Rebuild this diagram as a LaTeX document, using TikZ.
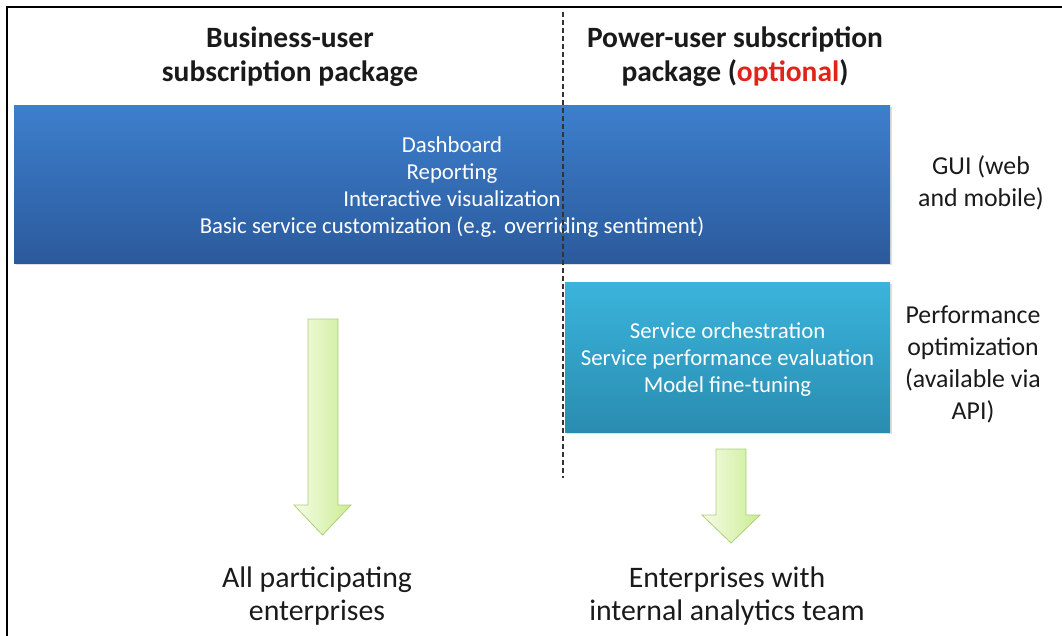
\documentclass[tikz,border=0pt]{standalone}
\usepackage{fontspec}
\setmainfont{Carlito}
\usetikzlibrary{shadows}

\definecolor{guitop}{HTML}{3D7FCD}
\definecolor{guibot}{HTML}{2B5A9C}
\definecolor{perftop}{HTML}{3AB4DC}
\definecolor{perfbot}{HTML}{2A8CB0}
\definecolor{arrowlight}{HTML}{F6FCE8}
\definecolor{arrowdark}{HTML}{CBEC92}
\definecolor{arrowedge}{HTML}{ABD078}
\definecolor{optred}{HTML}{E2231A}
\definecolor{inktext}{HTML}{1A1A1A}

\begin{document}
\begin{tikzpicture}[x=1pt,y=-1pt,
  layerbox/.style={rectangle, inner sep=0pt, align=center, text=white,
    font=\fontsize{22.8}{27}\selectfont,
    drop shadow={shadow xshift=1.5pt, shadow yshift=-2pt, opacity=0.25}},
  header/.style={align=center, text=inktext, font=\bfseries\fontsize{29.5}{34}\selectfont},
  sidelabel/.style={align=center, text=inktext, font=\fontsize{25.8}{32}\selectfont},
  audience/.style={align=center, text=inktext, font=\fontsize{29.8}{33}\selectfont},
  blockarrow/.style={draw=arrowedge, line width=0.8pt, line join=miter,
    left color=arrowlight, right color=arrowdark},
  divider/.style={draw=black!80, line width=1.2pt, dash pattern=on 5pt off 3pt}]

\useasboundingbox (0,0) rectangle (1062,635);

% frame
\draw[line width=2.2pt] (7,636) -- (7,7) -- (1063,7);

% column headers
\node[header] (bizhead) at (290,57) {Business-user\\subscription package};
\node[header] (powhead) at (735,57) {Power-user subscription\\package (\textcolor{optred}{optional})};

% GUI layer
\node[layerbox, top color=guitop, bottom color=guibot,
      minimum width=876pt, minimum height=158pt] (gui) at (452,184) {};
\node[align=center, text=white, font=\fontsize{22.8}{27}\selectfont] (guitext) at (gui.center)
  [yshift=-3pt] {Dashboard\\Reporting\\Interactive visualization\\Basic service customization (e.g. overriding sentiment)};
\node[sidelabel] (guilab) at (981,182.5) {GUI (web\\and mobile)};

% performance layer
\node[layerbox, top color=perftop, bottom color=perfbot,
      minimum width=325pt, minimum height=150pt] (perf) at (727.5,357) {};
\node[align=center, text=white, font=\fontsize{22.8}{27}\selectfont] (perftext) at (perf.center)
  [yshift=-3pt] {Service orchestration\\Service performance evaluation\\Model fine-tuning};
\node[sidelabel] (perflab) at (973,364) {Performance\\optimization\\(available via\\API)};

% block arrows
\path[blockarrow] (308,319) -- (338,319) -- (338,505) -- (351,505) -- (322.5,535)
  -- (294,505) -- (308,505) -- cycle;
\path[blockarrow] (716,449) -- (746,449) -- (746,515) -- (760,515) -- (731,543)
  -- (702,515) -- (716,515) -- cycle;

% audiences
\node[audience] (allent) at (317,596) {All participating\\enterprises};
\node[audience] (inhouse) at (727,596) {Enterprises with\\internal analytics team};

% column divider
\coordinate (divtop) at (563,12);
\coordinate (divbot) at (563,478);
\draw[divider] (divtop) -- (divbot);

\end{tikzpicture}
\end{document}
